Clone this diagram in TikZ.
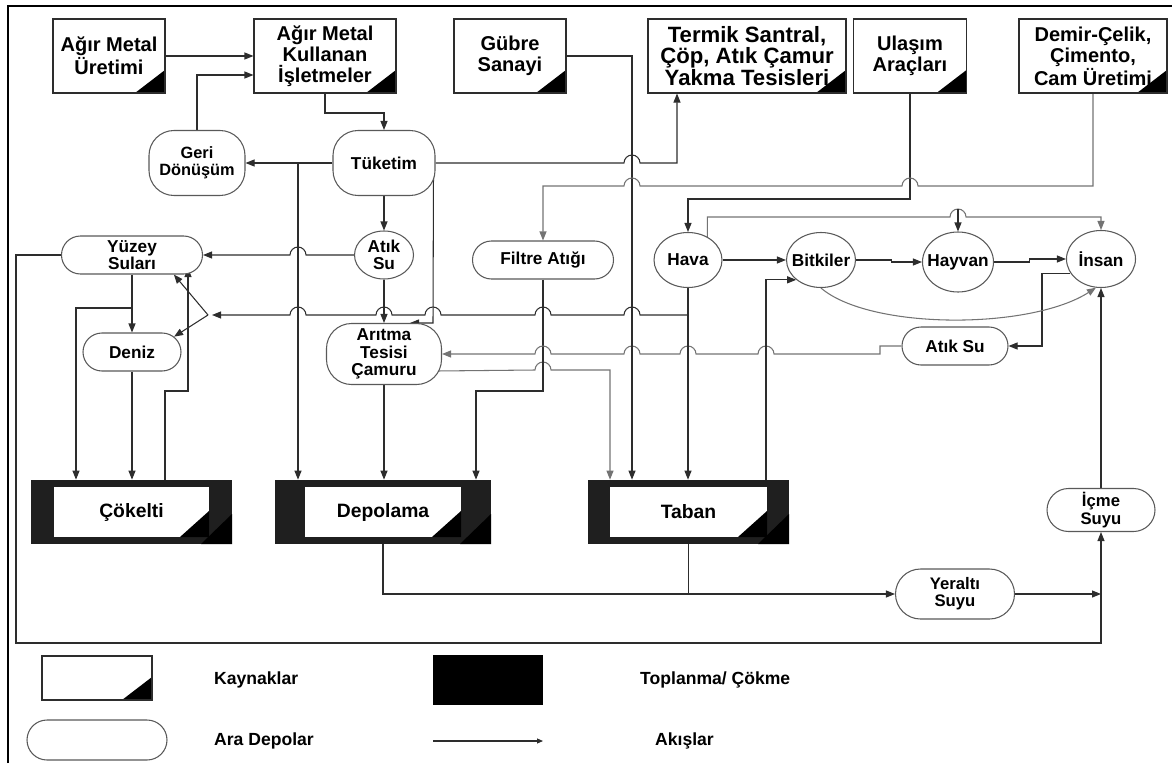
\documentclass[tikz,border=0pt]{standalone}
\usepackage{fontspec}
\setmainfont{Liberation Sans}
\usepackage{tikz}
\usetikzlibrary{shapes.geometric, shapes.misc, arrows.meta,
                positioning, backgrounds, calc}
\definecolor{linegray}{RGB}{45,45,45}
\definecolor{softgray}{RGB}{115,115,115}

% small bridge where a flow crosses another one
\newcommand{\hopR}{arc[start angle=180,end angle=0,radius=1.6mm]}
\newcommand{\hopL}{arc[start angle=0,end angle=180,radius=1.6mm]}

\begin{document}
\begin{tikzpicture}[x=0.2mm, y=-0.2mm,
  src/.style={draw=linegray, line width=0.6pt, fill=white, align=center,
              inner sep=1pt, minimum height=14.8mm,
              font=\fontsize{11.4}{12}\selectfont\bfseries,
              path picture={\fill[black] (path picture bounding box.south east)
                -- ++(-6mm,0) -- ++(6mm,4.6mm) -- cycle;}},
  sink/.style={fill=black!88, minimum height=12.8mm, inner sep=0pt,
              font=\fontsize{11}{13}\selectfont\bfseries,
              path picture={
                \fill[white] ([shift={(#1,1.4mm)}]path picture bounding box.south west)
                  rectangle ([shift={(-#1,-1.4mm)}]path picture bounding box.north east);
                \fill[black] ([shift={(-#1,1.4mm)}]path picture bounding box.south east)
                  -- ++(-5.8mm,0) -- ++(5.8mm,5.2mm) -- cycle;
                \fill[black] ([xshift=-6.2mm]path picture bounding box.south east)
                  -- ++(6.2mm,6mm) -- ++(0,-6mm) -- cycle;}},
  pool/.style={draw=black!65, line width=0.6pt, fill=white, align=center,
              inner sep=0pt, font=\fontsize{9.8}{9.8}\selectfont\bfseries},
  stad/.style={pool, rounded rectangle, inner xsep=-3mm},
  rbox/.style={pool, rectangle, rounded corners=5mm},
  ell/.style={pool, ellipse, inner sep=-2mm},
  flow/.style={draw=linegray, line width=0.6pt, -{Triangle[length=1.8mm,width=1.4mm]}},
  lbl/.style={anchor=west, font=\fontsize{10}{12}\selectfont\bfseries},
]
\useasboundingbox (0,0) rectangle (1172,763);
\draw[line width=0.8pt] (8,763) -- (8,6) -- (1172,6);

% sources
\node[src, minimum width=22.4mm] (uretim) at (109,56) {Ağır Metal\\Üretimi};
\node[src, minimum width=28.4mm] (kullanan) at (325,56) {Ağır Metal\\Kullanan\\İşletmeler};
\node[src, minimum width=22.4mm] (gubre) at (510,56) {Gübre\\Sanayi};
\node[src, minimum width=39.6mm, font=\fontsize{12.6}{12}\selectfont\bfseries] (termik) at (747,56)
  {Termik Santral,\\Çöp, Atık Çamur\\Yakma Tesisleri};
\node[src, minimum width=22.6mm] (ulasim) at (910,56) {Ulaşım\\Araçları};
\node[src, minimum width=29.6mm] (demir) at (1093,56) {Demir-Çelik,\\Çimento,\\Cam Üretimi};

% intermediate stores
\node[rbox, minimum width=19.2mm, minimum height=13mm, font=\fontsize{9.3}{9.6}\selectfont\bfseries]
  (geri) at (197,163) {Geri\\Dönüşüm};
\node[rbox, minimum width=20.4mm, minimum height=13mm] (tuketim) at (384,163) {Tüketim};
\node[ell, minimum width=11.8mm, minimum height=9.6mm] (atiksu) at (384,255) {Atık\\Su};
\node[stad, minimum width=22.2mm, minimum height=7.6mm] (yuzey) at (132,255) {Yüzey\\Suları};
\node[stad, minimum width=13.6mm, minimum height=7.6mm] (deniz) at (132,352) {Deniz};
\node[rbox, minimum width=23mm, minimum height=12.2mm] (aritma) at (384,354) {Arıtma\\Tesisi\\Çamuru};
\node[stad, minimum width=22.2mm, minimum height=7.6mm] (filtre) at (543,260) {Filtre Atığı};
\node[ell, minimum width=13.6mm, minimum height=11mm] (hava) at (688,260) {Hava};
\node[ell, minimum width=13.8mm, minimum height=11mm] (bitkiler) at (821,260) {Bitkiler};
\node[ell, minimum width=14.2mm, minimum height=12mm] (hayvan) at (958,262) {Hayvan};
\node[ell, minimum width=13.8mm, minimum height=11.4mm] (insan) at (1101,259) {İnsan};
\node[stad, minimum width=15.2mm, minimum height=7.6mm] (atiksuB) at (955,346) {Atık Su};
\node[stad, minimum width=17.8mm, minimum height=10mm, font=\fontsize{9.5}{9.8}\selectfont\bfseries]
  (yeralti) at (955,594) {Yeraltı\\Suyu};
\node[stad, minimum width=15.6mm, minimum height=8.6mm, font=\fontsize{9.5}{9.8}\selectfont\bfseries]
  (icme) at (1101,510) {İçme\\Suyu};

% sinks
\node[sink=4.6mm, minimum width=40.2mm] (cokelti) at (131.5,512) {Çökelti};
\node[sink=6mm, minimum width=43.2mm] (depolama) at (383,512) {Depolama};
\node[sink=4.4mm, minimum width=40.2mm] (taban) at (688.5,512) {Taban};

% junctions
\coordinate (tdj) at (298,163);
\coordinate (fork) at (208,315);
\coordinate (ydj) at (132,308);
\coordinate (ysr) at (188,268);
\coordinate (hvtop) at (958,209);
\coordinate (jn) at (1101,594);

\begin{scope}[on background layer]
\draw[flow] (uretim.east) -- (kullanan.west);
\draw[flow] (geri.north) -- (197,75) -- (197,75 -| kullanan.west);
\draw[flow] (kullanan.south) -- (325,113) -| (tuketim.north);
\draw[flow] (tuketim.west) -- (geri.east);
\draw[flow] (tdj) -- (tdj |- depolama.north);
\draw[flow] (tuketim.east) -- (624,163) \hopR -- (677,163) -- (677,0 |- termik.south);
\draw[flow] (tuketim.south) -- (atiksu.north);
\draw[flow] ([xshift=-0.4mm]tuketim.east) -- (433,0 |- aritma.north) -- (410,0 |- aritma.north);
\draw[flow] (atiksu.west) -- (306,255) \hopL -- (yuzey.east);
\draw[flow] (atiksu.south) -- (aritma.north);
\draw[flow] (hava.south |- 0,315) -- (640,315) \hopL -- (551,315) \hopL -- (441,315) \hopL
  -- (392,315) \hopL -- (306,315) \hopL -- (212,315);
\draw[flow] (fork) -- (yuzey.-25);
\draw[flow] (fork) -- (deniz.20);
\draw[flow] (yuzey.south) -- (deniz.north);
\draw[flow] (ydj) -- (76,308) -- (76,0 |- cokelti.north);
\draw[flow] (deniz.south) -- (deniz.south |- cokelti.north);
\draw[flow] (165,0 |- cokelti.north) -- (165,391) -- (188,391) -- (ysr);
\draw[flow] (aritma.south) -- (aritma.south |- depolama.north);
\draw[flow, draw=softgray] ([shift={(-1mm,-3.4mm)}]aritma.east) -- (535,370) \hopR -- (610,370)
  -- (610,0 |- taban.north);
\draw[flow] (filtre.south) -- (543,391) -- (476,391) -- (476,0 |- depolama.north);
\draw[flow, draw=softgray] (atiksuB.west) -- (880,346) -- (880,354) -- (774,354) \hopL
  -- (696,354) \hopL -- (640,354) \hopL -- (551,354) \hopL -- (aritma.east);
\draw[flow] (insan.205) -| (1042,346) -- (atiksuB.east);
\draw[flow] (hava.south) -- (hava.south |- taban.north);
\draw[flow] (gubre.east) -- (632,56) -- (632,0 |- taban.north);
\draw[flow] (766,0 |- taban.north) |- (bitkiler.south west);
\draw[flow] (hava.east) -- (bitkiler.west);
\draw[flow] (bitkiler.east) -- ++(7mm,0) |- (hayvan.west);
\draw[flow] (hayvan.east) -- ++(7mm,0) |- (insan.west);
\draw[flow, draw=softgray] (bitkiler.south) .. controls (870,330) and (1030,330) .. (insan.260);
\draw[flow, draw=softgray] (hava.50) -- (hava.50 |- 0,217) -- (950,217) \hopR -- (1101,217)
  -- (insan.north);
\draw[flow] (hvtop) -- (hayvan.north);
\draw[flow] (ulasim.south) -- (910,199) -- (688,199) -- (hava.north);
\draw[flow, draw=softgray] (demir.south) -- (1093,186) -- (918,186) \hopL -- (640,186) \hopL
  -- (543,186) -- (filtre.north);
\draw[flow] (depolama.south) -- (depolama.south |- yeralti.west) -- (yeralti.west);
\draw[linegray, line width=0.6pt] (taban.south) -- (taban.south |- yeralti.west);
\draw[flow] (yeralti.east) -- (jn);
\draw[flow] (yuzey.west) -- (16,255) -- (16,643) -- (1101,643) -- (icme.south);
\draw[flow] (icme.north) -- (insan.south);
\end{scope}

% legend
\node[src, minimum width=22mm, minimum height=8.8mm] (lgsrc) at (97,678) {};
\node[fill=black, minimum width=22mm, minimum height=10mm, inner sep=0pt] (lgsink) at (488,680) {};
\node[stad, minimum width=22mm, minimum height=8mm] (lgpool) at (97,740) {};
\coordinate (lgA) at (433,741);
\coordinate (lgB) at (543,741);
\draw[flow, -{Triangle[length=1.2mm,width=1mm]}] (lgA) -- (lgB);
\node[lbl] (lgt1) at (208,680) {Kaynaklar};
\node[lbl] (lgt2) at (634,680) {Toplanma/ Çökme};
\node[lbl] (lgt3) at (208,741) {Ara Depolar};
\node[lbl] (lgt4) at (649,741) {Akışlar};
\end{tikzpicture}
\end{document}
